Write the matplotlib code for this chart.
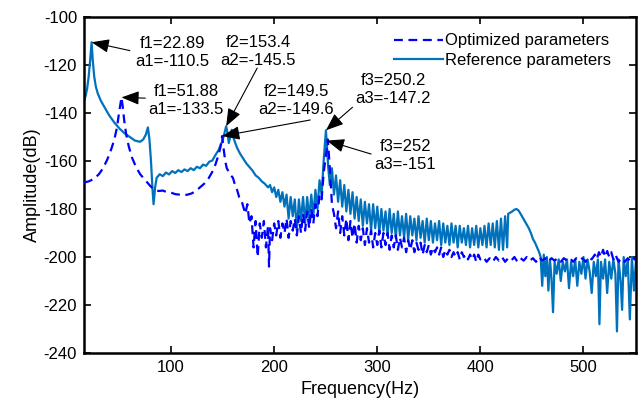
# %%
import numpy as np
import matplotlib.pyplot as plt

# values
ref_freq = [
    15.5, 17, 18.5, 20, 21.5, 22.89, 24, 25.5, 27, 29,
    32, 36, 40, 45, 50, 55, 60, 65, 70, 73,
    75.5, 77.5, 79, 80.5, 82, 83, 84.5, 86, 89, 92,
    95, 98, 101, 104, 107, 110, 113, 116, 119, 122,
    125, 128, 131, 134, 137, 140, 143, 146, 148, 150,
    152, 153.4, 154.6, 156, 157.5, 158.8, 161, 164, 167, 170,
    173, 176, 179, 182, 185, 188, 191, 194,
    196, 198, 200, 202, 204, 206, 208, 210, 212, 214,
    216, 218, 220, 222, 224, 226, 228, 230, 232, 234,
    236, 238, 240, 242, 244, 246, 248, 249, 250.2, 251.3,
    252.5, 254, 256, 258, 260, 262, 264, 266, 268, 270,
    272, 274, 276, 278, 280, 282, 284, 286, 288, 290,
    292, 294, 296, 298, 300, 302, 304, 306, 308, 310,
    312, 314, 316, 318, 320, 322, 324, 326, 328, 330,
    332, 334, 336, 338, 340, 342, 344, 346, 348, 350,
    352, 354, 356, 358, 360, 362, 364, 366, 368, 370,
    372, 374, 376, 378, 380, 382, 384, 386, 388, 390,
    392, 394, 396, 398, 400, 402, 404, 406, 408, 410,
    412, 414, 416, 418, 420, 422, 424, 426, 427, 429,
    431, 433, 435, 437, 439, 441, 443, 445, 447, 449,
    451, 453, 455, 457, 458.5, 460, 461.5, 463, 464.5, 466,
    467.5, 469, 470.5, 472, 474, 476, 478, 480, 482, 484,
    486, 488, 490, 492, 494, 496, 498, 500, 502, 504,
    506, 508, 510, 512, 514, 515.5, 517, 519, 521, 523,
    525, 527, 529, 531, 532.5, 534, 536, 537.5, 539, 541,
    543, 545, 547, 549, 551,
]
ref_amp = [
    -135, -133, -130, -125, -118, -110.5, -118, -125, -129, -132,
    -135, -138, -141, -144, -146.5, -148.5, -150, -151.5, -152, -151,
    -149, -146, -151, -160, -172, -178, -171, -167, -165.5, -166.3,
    -164.8, -165.6, -164.2, -165, -163.8, -164.6, -163.5, -164.2, -163, -163.8,
    -162.4, -163, -161.5, -162, -160.3, -159.8, -157.5, -155.5, -153.5, -151.3,
    -148, -145.5, -148, -152.5, -149.5, -147, -151, -154.5, -157, -159,
    -161, -162.5, -164, -166, -167, -168.5, -169.5, -171,
    -170, -173, -171, -175, -172, -177, -173, -179, -174, -184,
    -175, -183, -176, -189, -176, -185, -175, -186, -175, -184,
    -174, -183, -172, -180, -168, -174, -160, -154, -147.2, -155,
    -163, -170, -163, -174, -166, -177, -168, -179, -170, -181,
    -172, -182, -173, -184, -175, -185, -176, -187, -177, -186,
    -178, -189, -178, -188, -179, -190, -180, -189, -181, -191,
    -180, -190, -182, -192, -181, -191, -183, -192, -182, -193,
    -183, -191, -184, -193, -183, -192, -185, -194, -184, -193,
    -185, -194, -186, -193, -185, -195, -186, -194, -187, -195,
    -186, -194, -187, -196, -187, -194, -188, -195, -187, -196,
    -188, -195, -187, -196, -188, -195, -187, -196, -186, -195,
    -186, -196, -185, -197, -184, -197, -183, -196, -182, -181.5,
    -181, -180.3, -180, -180.6, -182, -183.5, -185, -186.5, -188, -190,
    -192.5, -194, -196, -198, -200, -212, -199, -208, -200, -214,
    -201, -209, -223, -202, -207, -201, -210, -202, -206, -201,
    -213, -202, -208, -201, -212, -202, -207, -200, -209, -201,
    -206, -215, -202, -208, -201, -228, -202, -209, -201, -215,
    -202, -209, -201, -207, -231, -201, -210, -222, -200, -208,
    -201, -226, -200, -214, -201,
]

opt_freq = [
    15.5, 20, 25, 30, 34, 38, 42, 45, 47.5, 49.5,
    51.88, 53, 54.5, 56.5, 59, 62, 66, 70, 75, 80,
    84, 88, 92, 96, 100, 104, 108, 112, 116, 120,
    124, 128, 132, 136, 140, 143, 146, 148, 149.5, 151,
    152.5, 154, 156, 158, 160, 162, 164, 166, 168, 170,
    172, 174, 176, 178, 180, 182, 184, 186, 188, 190,
    192, 194, 195, 196, 198, 200, 202, 204, 206, 208,
    210, 212, 214, 216, 218, 220, 222, 224, 226, 228,
    230, 232, 234, 236, 238, 240, 242, 244, 246, 248,
    250, 252, 253.5, 255, 256, 258, 260, 262, 264, 266,
    268, 270, 272, 274, 276, 278, 280, 282, 284, 286,
    288, 290, 292, 294, 296, 298, 300, 302, 304, 306,
    308, 310, 312, 314, 316, 318, 320, 322, 324, 326,
    328, 330, 332, 334, 336, 338, 340, 342, 344, 346,
    348, 350, 352, 354, 356, 358, 360, 362, 364, 366,
    368, 370, 372, 374, 376, 378, 380, 382, 384, 386,
    388, 390, 392, 394, 396, 398, 400, 403, 406, 409,
    412, 415, 418, 421, 424, 427, 430, 433, 436, 439,
    442, 445, 448, 451, 454, 457, 460, 463, 466, 469,
    472, 475, 478, 481, 484, 487, 490, 493, 496, 499,
    502, 505, 508, 511, 513, 515, 517, 519, 521, 523,
    525, 527, 529, 531, 534, 537, 540, 543, 546, 549,
    551,
]
opt_amp = [
    -169, -168.5, -167.5, -165.5, -163, -159.5, -155, -151, -146, -140,
    -133.5, -137, -143, -149, -154, -158.5, -162.5, -165.5, -168, -170.5,
    -172, -172.5, -172.3, -173, -173.2, -173.8, -174, -174.3, -174, -173.5,
    -172.5, -171, -169.5, -167.5, -164.5, -161.5, -157.5, -154, -149.6, -155,
    -160, -163, -164.5, -166, -167, -170, -172, -175, -176, -179,
    -182, -178, -186, -183, -196, -185, -200, -186, -192, -185,
    -196, -187, -204, -188, -193, -186, -191, -185, -192, -186,
    -190, -184, -192, -185, -189, -184, -191, -183, -190, -182,
    -189, -181, -188, -180, -186, -178, -183, -174, -176, -165,
    -158, -151, -160, -170, -178, -182, -188, -181, -190, -183,
    -191, -184, -193, -185, -192, -186, -194, -187, -193, -188,
    -195, -188, -194, -189, -196, -190, -195, -189, -196, -190,
    -195, -190, -197, -191, -196, -191, -197, -192, -196, -192,
    -198, -193, -197, -193, -198, -194, -197, -194, -199, -195,
    -198, -195, -199, -196, -198, -196, -199, -196, -200, -197,
    -199, -197, -200, -198, -200, -198, -201, -198, -200, -199,
    -201, -199, -201, -199, -202, -199, -201, -200, -202, -200.5,
    -202, -200, -201.5, -200, -202, -200.5, -201.5, -200, -202, -200.5,
    -201.5, -200, -201.5, -200.5, -202, -200, -201.5, -200.5, -202, -200.5,
    -201.5, -200.5, -202, -200.5, -201.5, -200.5, -202, -200.5, -201.5, -200.5,
    -202, -200, -201, -199, -201, -198, -200, -197, -200, -197.5,
    -200, -198, -201, -199, -202, -200.5, -202, -200.5, -202, -200.5,
    -201.5,
]

# annotations: (label, point, text position, arrow tail)
notes = [
    ('f1=22.89\na1=-110.5', (22.89, -110.5), (101, -114.6), (60, -114)),
    ('f1=51.88\na1=-133.5', (51.88, -133.5), (114.5, -134.6), (75, -133.8)),
    ('f2=153.4\na2=-145.5', (153.4, -145.5), (184.5, -114.4), (183.5, -121.3)),
    ('f2=149.5\na2=-149.6', (149.5, -149.6), (221.5, -134.6), (235, -142.9)),
    ('f3=250.2\na3=-147.2', (250.2, -147.2), (315.5, -130), (276, -137.6)),
    ('f3=252\na3=-151', (251, -151.5), (327, -157.5), (294, -157.1)),
]

# %%
plt.rcParams['font.family'] = ['Liberation Sans', 'DejaVu Sans']
plt.rcParams['axes.unicode_minus'] = False

fig = plt.figure(figsize = (6.42, 4.09), dpi = 100)
ax = fig.add_axes([0.1308, 0.1369, 0.8599, 0.8215])

ax.plot(ref_freq, ref_amp, color = '#0072BD', lw = 1.6,
        label = 'Reference parameters', zorder = 2)
ax.plot(opt_freq, opt_amp, color = '#0000FF', lw = 1.6,
        linestyle = (0, (4, 2.5)), label = 'Optimized parameters', zorder = 3)

ax.set_xlim(15.5, 551)
ax.set_ylim(-240, -100)
ax.set_xticks([100, 200, 300, 400, 500])
ax.set_yticks(np.arange(-240, -99, 20))

ax.tick_params(direction = 'in', top = True, right = True, length = 5,
               width = 1.2, labelsize = 12, pad = 5)
for s in ax.spines.values():
    s.set_linewidth(1.8)

ax.set_xlabel('Frequency(Hz)', fontsize = 13, labelpad = 4)
ax.set_ylabel('Amplitude(dB)', fontsize = 13, labelpad = 2)

for label, pt, txt, tail in notes:
    ax.text(txt[0], txt[1], label, ha = 'center', va = 'center',
            fontsize = 12, linespacing = 1.25, zorder = 5)
    ax.annotate('', xy = pt, xytext = tail,
                arrowprops = dict(arrowstyle = '-|>,head_length=0.9,head_width=0.35',
                                  mutation_scale = 12, color = 'k', lw = 0.8,
                                  shrinkA = 0, shrinkB = 0),
                zorder = 6)

handles, labels = ax.get_legend_handles_labels()
ax.legend(handles[::-1], labels[::-1], loc = 'upper right',
          bbox_to_anchor = (0.964, 0.966), frameon = False,
          fontsize = 12, handlelength = 2.9, handletextpad = 0.15,
          labelspacing = 0.25, borderaxespad = 0.0, borderpad = 0.3)

fig.savefig('out.png', dpi = 100)
